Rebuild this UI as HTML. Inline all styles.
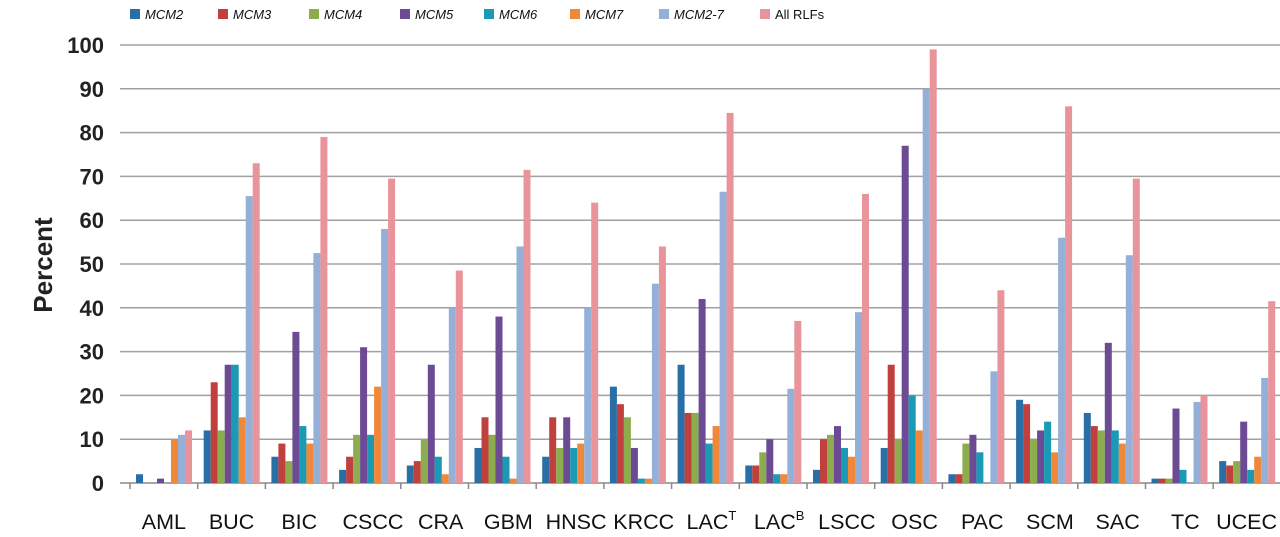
<!DOCTYPE html>
<html><head><meta charset="utf-8"><style>
body{margin:0;background:#fff;font-family:"Liberation Sans",sans-serif}
</style></head><body>
<svg id="chart" width="1280" height="532" xmlns="http://www.w3.org/2000/svg" font-family="Liberation Sans, sans-serif"></svg>
<script>
const categories=["AML","BUC","BIC","CSCC","CRA","GBM","HNSC","KRCC","LAC","LAC","LSCC","OSC","PAC","SCM","SAC","TC","UCEC"];
const supers=["","","","","","","","","T","B","","","","","","",""];
const seriesNames=["MCM2","MCM3","MCM4","MCM5","MCM6","MCM7","MCM2-7","All RLFs"];
const mcm2=[2,12,6,3,4,8,6,22,27,4,3,8,2,19,16,1,5];
const mcm3=[0,23,9,6,5,15,15,18,16,4,10,27,2,18,13,1,4];
const mcm4=[0,12,5,11,10,11,8,15,16,7,11,10,9,10,12,1,5];
const mcm5=[1,27,34.5,31,27,38,15,8,42,10,13,77,11,12,32,17,14];
const mcm6=[0,27,13,11,6,6,8,1,9,2,8,20,7,14,12,3,3];
const mcm7=[10,15,9,22,2,1,9,1,13,2,6,12,0,7,9,0,6];
const mcm27=[11,65.5,52.5,58,40,54,40,45.5,66.5,21.5,39,90,25.5,56,52,18.5,24];
const allRLF=[12,73,79,69.5,48.5,71.5,64,54,84.5,37,66,99,44,86,69.5,20,41.5];
const yTicks=[0,10,20,30,40,50,60,70,80,90,100];
const series=[mcm2,mcm3,mcm4,mcm5,mcm6,mcm7,mcm27,allRLF];
const colors=["#2a6ea6","#c0403e","#8cac4e","#6c4a94","#1a9ab4","#f0883a","#94b0d8","#e8949a"];
const svg=document.getElementById('chart');
const NS="http://www.w3.org/2000/svg";
const x0=130,gw=67.7,y0=483,ypp=4.38,bw=7;
const yS=v=>y0-v*ypp;
const xS=(g,s)=>x0+g*gw+6+s*bw;
function mk(t,a,txt){const e=document.createElementNS(NS,t);for(const k in a)e.setAttribute(k,a[k]);if(txt!==undefined)e.textContent=txt;svg.appendChild(e);return e;}
yTicks.forEach(t=>{
 const l=mk('line',{x1:120,x2:1280,y1:yS(t),y2:yS(t),stroke:t===0?'#888':'#a0a0a0','stroke-width':1.5});
 
 
 const tx=mk('text',{x:104,y:yS(t)+8,'text-anchor':'end','font-size':22,'font-weight':'bold',fill:'#222'},String(t));
 
 
});
const yl=mk('text',{transform:'translate(52,265) rotate(-90)','text-anchor':'middle','font-size':26,'font-weight':'bold',fill:'#222'},'Percent');


categories.forEach((c,g)=>{
 const tk=mk('line',{x1:x0+g*gw,x2:x0+g*gw,y1:y0,y2:y0+6,stroke:'#888','stroke-width':1.5});
 
 
 series.forEach((s,i)=>{
  const v=s[g];if(v<=0)return;
  const r=mk('rect',{x:xS(g,i),y:yS(v),width:bw,height:v*ypp,fill:colors[i]});
  
  
 });
 const last=g===categories.length-1;
 const t=mk('text',{x:last?1277:x0+g*gw+gw/2+(g>2?6:0),y:529,'text-anchor':last?'end':'middle','font-size':21.5,fill:'#111'},c);
 if(supers[g]){const ts=document.createElementNS(NS,'tspan');ts.setAttribute('dy','-9');ts.setAttribute('font-size','13');ts.textContent=supers[g];t.appendChild(ts);}
 
 
});
const lx=[130,218,309,400,484,570,659,760];
seriesNames.forEach((n,i)=>{
 const r=mk('rect',{x:lx[i],y:9,width:10,height:10,fill:colors[i]});
 
 
 const t=mk('text',{x:lx[i]+15,y:19,'font-size':13,'font-style':i<7?'italic':'normal',fill:'#111'},n);
 
 
});
</script>
</body></html>
